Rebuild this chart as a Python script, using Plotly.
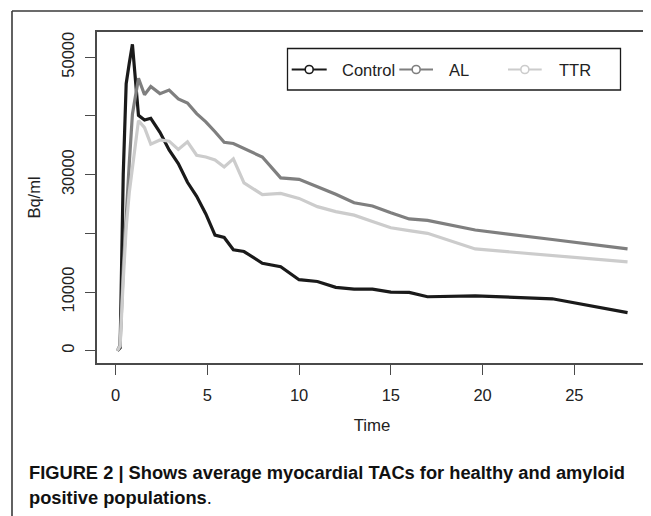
import plotly.graph_objects as go

# ---- data ----
time_min = [0.1, 0.25, 0.42, 0.58, 0.75, 0.92, 1.25, 1.58, 1.92, 2.42, 2.92, 3.42, 3.92,
            4.42, 4.92, 5.42, 5.92, 6.42, 7.0, 8.0, 9.0, 10, 11, 12, 13, 14, 15, 16, 17,
            19.6, 23.8, 27.9]
control = [0, 500, 30000, 45500, 49000, 52200, 40100, 39300, 39600, 37200, 34200, 31900, 28700,
           26300, 23300, 19700, 19300, 17200, 16900, 14900, 14300, 12100, 11800, 10800, 10500,
           10500, 10000, 9950, 9200, 9350, 8850, 6500]
al = [0, 1000, 14000, 24000, 32000, 40300, 46400, 43600, 45000, 43800, 44400, 42900, 42200,
      40400, 39000, 37300, 35500, 35300, 34400, 33000, 29450, 29200, 27950, 26650, 25200,
      24650, 23500, 22450, 22200, 20570, 18950, 17340]
ttr = [0, 800, 12000, 21000, 27000, 31500, 39200, 38000, 35200, 35900, 35700, 34300, 35600,
       33300, 33000, 32500, 31300, 32700, 28600, 26600, 26800, 25950, 24550, 23700, 23100,
       22000, 20950, 20450, 20000, 17340, 16230, 15130]

series_names = ["Control", "AL", "TTR"]
series_values = [control, al, ttr]
series_colors = ["#1a1a1a", "#7f7f7f", "#cccccc"]

x_tickvals = [0, 5, 10, 15, 20, 25]
x_ticktext = ["0", "5", "10", "15", "20", "25"]
y_tickvals = [0, 10000, 20000, 30000, 40000, 50000]
y_ticktext = ["0", "10000", "", "30000", "", "50000"]

x_title = "Time"
y_title = "Bq/ml"
caption_line1 = "<b>FIGURE 2 | Shows average myocardial TACs for healthy and amyloid</b>"
caption_line2 = "<b>positive populations</b>."

FONT = "Liberation Sans, Arial, Helvetica, sans-serif"
AXIS_COL = "#4a4a4a"
TXT_COL = "#222222"

# the page body adds an 8px offset; lay the figure out so the page matches the reference
OFF = 8
W, H = 651, 516
L, R, T, B = 89, 12, 24, 161
PW, PH = W - L - R, H - T - B


def px(x_ref):
    return (x_ref - OFF - L) / PW


def py(y_ref):
    return (H - B - (y_ref - OFF)) / PH


fig = go.Figure()
for name, vals, col in zip(series_names, series_values, series_colors):
    fig.add_trace(go.Scatter(x=time_min, y=vals, mode="lines", name=name,
                             line=dict(color=col, width=3.2), showlegend=False))

fig.update_layout(
    width=W, height=H,
    margin=dict(l=L, r=R, t=T, b=B, autoexpand=False),
    paper_bgcolor="white", plot_bgcolor="white",
    font=dict(family=FONT, size=16.5, color=TXT_COL),
    xaxis=dict(range=[-1.01, 28.96], tickvals=x_tickvals, ticktext=x_ticktext,
               ticks="outside", ticklen=10, tickwidth=1.3, tickcolor=AXIS_COL,
               showline=True, linecolor=AXIS_COL, linewidth=1.6, mirror=True,
               showgrid=False, zeroline=False, ticklabelstandoff=6,
               title=dict(text=x_title, standoff=17, font=dict(size=16.8))),
    yaxis=dict(range=[-2090, 54300], tickvals=y_tickvals, ticktext=y_ticktext,
               tickangle=-90, ticks="outside", ticklen=10, tickwidth=1.3, tickcolor=AXIS_COL,
               showline=True, linecolor=AXIS_COL, linewidth=1.6, mirror=True,
               showgrid=False, zeroline=False, ticklabelstandoff=5,
               title=dict(text=y_title, standoff=14, font=dict(size=16.5))),
)

shapes = []
# outer figure frame (top and left edges visible)
shapes.append(dict(type="line", xref="paper", yref="paper", x0=px(12), x1=px(700),
                   y0=py(11), y1=py(11), line=dict(color="#3a3a3a", width=1.6)))
shapes.append(dict(type="line", xref="paper", yref="paper", x0=px(12), x1=px(12),
                   y0=py(11), y1=py(560), line=dict(color="#3a3a3a", width=1.6)))
# legend box
shapes.append(dict(type="rect", xref="paper", yref="paper", x0=px(287.5), x1=px(620.5),
                   y0=py(90), y1=py(48.5), line=dict(color="#1a1a1a", width=1.3),
                   fillcolor="white"))
annotations = []
leg_y = 69.5
leg_items = [(291.7, 326.7, 340), (399.3, 433, 446.7), (508, 541.7, 556.7)]
for (lx0, lx1, tx), name, col in zip(leg_items, series_names, series_colors):
    shapes.append(dict(type="line", xref="paper", yref="paper", x0=px(lx0), x1=px(lx1),
                       y0=py(leg_y), y1=py(leg_y), line=dict(color=col, width=2)))
    cx = (lx0 + lx1) / 2
    shapes.append(dict(type="circle", xref="paper", yref="paper", x0=px(cx - 4), x1=px(cx + 4),
                       y0=py(leg_y + 4), y1=py(leg_y - 4), line=dict(color=col, width=1.6),
                       fillcolor="white"))
    annotations.append(dict(text=name, xref="paper", yref="paper", x=px(tx), y=py(leg_y),
                            xanchor="left", yanchor="middle", showarrow=False,
                            font=dict(size=16.5, color=TXT_COL, family=FONT)))

annotations.append(dict(text=caption_line1, xref="paper", yref="paper", x=px(27), y=py(472),
                        xanchor="left", yanchor="middle", showarrow=False,
                        font=dict(size=18.3, color="#111111", family=FONT)))
annotations.append(dict(text=caption_line2, xref="paper", yref="paper", x=px(27), y=py(497),
                        xanchor="left", yanchor="middle", showarrow=False,
                        font=dict(size=18.3, color="#111111", family=FONT)))

fig.update_layout(shapes=shapes, annotations=annotations)
fig.write_html("out.html")
